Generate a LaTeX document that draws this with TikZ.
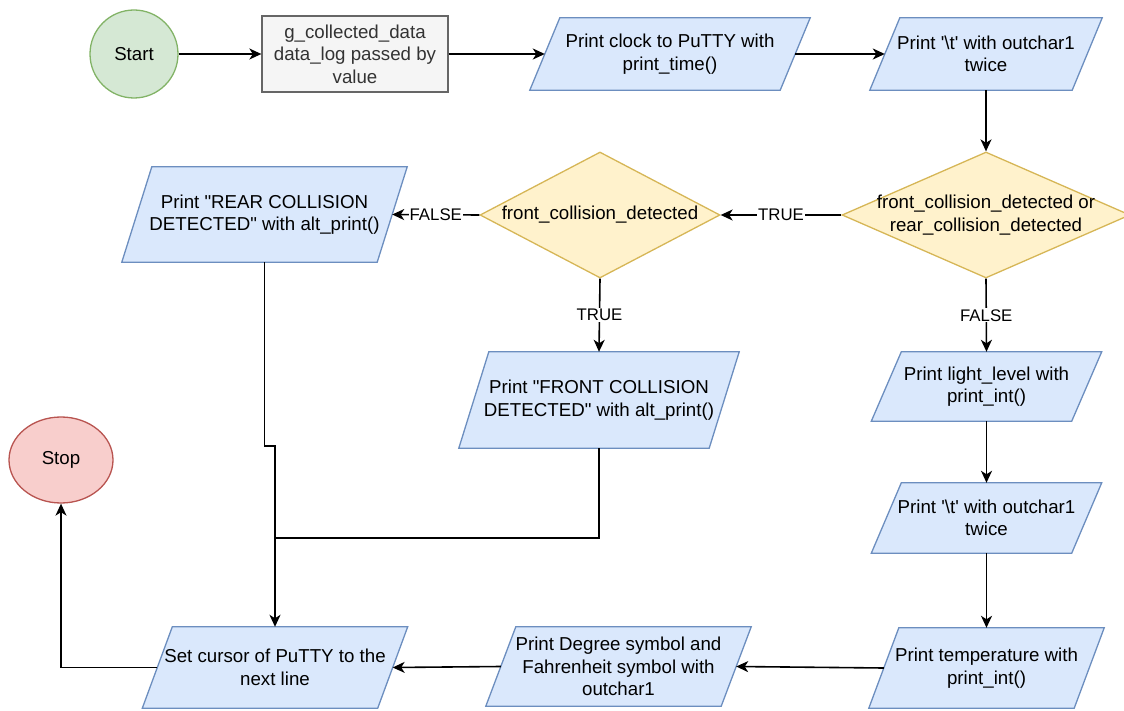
\documentclass[tikz,border=0pt]{standalone}
\usepackage{fontspec}
\setmainfont{Liberation Sans}[Ligatures=TeXOff]
\usetikzlibrary{shapes.geometric,arrows.meta,calc,backgrounds}

\definecolor{greenfill}{HTML}{D5E8D4}\definecolor{greenline}{HTML}{82B366}
\definecolor{grayfill}{HTML}{F5F5F5}\definecolor{grayline}{HTML}{666666}
\definecolor{graytext}{HTML}{333333}
\definecolor{bluefill}{HTML}{DAE8FC}\definecolor{blueline}{HTML}{6C8EBF}
\definecolor{yellowfill}{HTML}{FFF2CC}\definecolor{yellowline}{HTML}{D6B656}
\definecolor{redfill}{HTML}{F8CECC}\definecolor{redline}{HTML}{B85450}

\tikzset{
  txt/.style={font=\fontsize{18.7}{22.5}\selectfont, align=center, inner sep=0pt},
  terminal/.style={txt, ellipse, line width=1.3pt},
  procbox/.style={txt, rectangle, draw=grayline, fill=grayfill, text=graytext, line width=1.3pt},
  iotext/.style={txt, rectangle},
  iobox/.style={draw=blueline, fill=bluefill, line width=1.3pt},
  decision/.style={diamond, draw=yellowline, fill=yellowfill, line width=1.3pt, inner sep=0pt},
  flow/.style={line width=1.6pt, -{Stealth[length=12pt,width=11pt,inset=3.5pt]}},
  plain/.style={line width=1.6pt},
  branch/.style={font=\fontsize{16.8}{19}\selectfont, fill=white, inner sep=1pt},
}

% Parallelogram (input/output) node: name, x, y, width, height, text
\newcommand\ionode[6]{%
  \node[iotext, minimum width=#4pt, minimum height=#5pt] (#1) at (#2,#3) {#6};
  \begin{pgfonlayer}{background}
    \draw[iobox] ($(#1.north west)+(15,0)$) -- ($(#1.north east)+(15,0)$)
      -- ($(#1.south east)-(15,0)$) -- ($(#1.south west)-(15,0)$) -- cycle;
  \end{pgfonlayer}}

\begin{document}
\begin{tikzpicture}[x=1pt, y=-1pt]
  \useasboundingbox (0,0) rectangle (1124,711);

  % terminals and plain process
  \node[terminal, draw=greenline, fill=greenfill, minimum width=88pt, minimum height=88pt] (start) at (134,54) {Start};
  \node[terminal, draw=redline, fill=redfill, minimum width=104pt, minimum height=86pt] (stop) at (61,460) {Stop};
  \node[procbox, minimum width=186pt, minimum height=76pt] (args) at (355,54) {g\_collected\_data\\data\_log passed by\\value};

  % input / output steps
  \ionode{clock}{670}{54}{250}{72}{Print clock to PuTTY with\\print\_time()}
  \ionode{tabA}{986}{54}{202}{72}{Print '\textbackslash t' with outchar1\\twice}
  \ionode{rear}{264.5}{214.5}{255}{95}{Print "REAR COLLISION\\DETECTED" with alt\_print()}
  \ionode{front}{599}{400}{250}{96}{Print "FRONT COLLISION\\DETECTED" with alt\_print()}
  \ionode{light}{986.5}{386.5}{200}{69}{Print light\_level with\\print\_int()}
  \ionode{tabB}{986.5}{518}{200}{70}{Print '\textbackslash t' with outchar1\\twice}
  \ionode{temp}{986.5}{668}{205}{80}{Print temperature with\\print\_int()}
  \ionode{deg}{618.5}{666.5}{235}{79}{Print Degree symbol and\\Fahrenheit symbol with\\outchar1}
  \ionode{setc}{275}{667.5}{235}{81}{Set cursor of PuTTY to the\\next line}

  % decisions
  \node[decision, minimum width=288pt, minimum height=126pt,
        label={[txt, name=anyT]center:front\_collision\_detected or\\rear\_collision\_detected}] (anyhit) at (986,215) {};
  \node[decision, minimum width=240pt, minimum height=126pt,
        label={[txt, name=frontT]center:front\_collision\_detected}] (fronthit) at (600,215) {};

  % junction points of the merging lines
  \coordinate (jogA) at (264.5,446);
  \coordinate (jogB) at (275,446);
  \coordinate (merge) at (275,538);

  % connectors
  \draw[flow] (start) -- (args);
  \draw[flow] (args.east) -- (clock.west);
  \draw[flow] (clock.east) -- (tabA.west);
  \draw[flow] (tabA.south) -- (anyhit.north);
  \draw[flow] (anyhit.west) -- node[branch] {TRUE} (fronthit.east);
  \draw[flow] (fronthit.west) -- node[branch] {FALSE} (rear.east);
  \draw[flow] (fronthit.south) -- node[branch] {TRUE} (front.north);
  \draw[flow] (anyhit.south) -- node[branch] {FALSE} (light.north);
  \draw[flow] (light.south) -- (tabB.north);
  \draw[flow] (tabB.south) -- (temp.north);
  \draw[flow] (temp.west) -- (deg.east);
  \draw[flow] (deg.west) -- (setc.east);
  \draw[flow] (setc.west) -| (stop.south);
  \draw[flow] (rear.south) -- (jogA) -- (jogB) -- (setc.north);
  \draw[plain] (front.south) |- (merge);
\end{tikzpicture}
\end{document}
